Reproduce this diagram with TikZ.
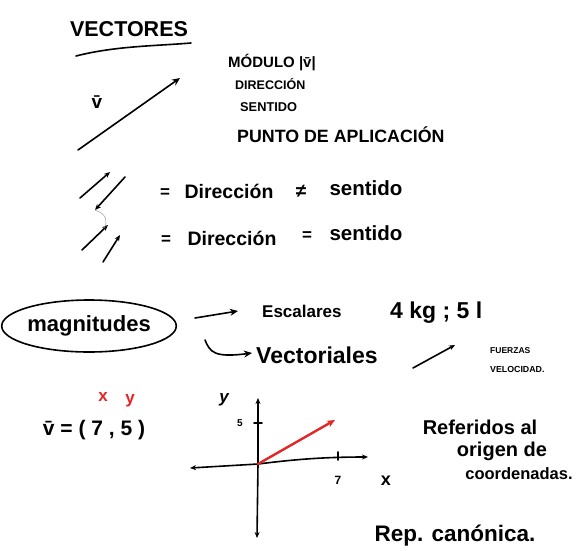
\documentclass[tikz,border=0pt]{standalone}
\usepackage{fontspec}
\setmainfont{Liberation Sans}
\usetikzlibrary{arrows.meta,shapes.geometric}
\definecolor{pred}{RGB}{228,38,38}
\definecolor{pfaint}{RGB}{170,170,170}
\begin{document}
\begin{tikzpicture}[x=1pt,y=-1pt,
  pen/.style={line width=1.6pt,line cap=round,line join=round},
  arr/.style={pen,-{Stealth[length=8pt,width=7pt]}},
  sarr/.style={pen,-{Stealth[length=6pt,width=5pt]}},
  axarr/.style={pen,{Stealth[length=6pt,width=5pt]}-{Stealth[length=6pt,width=5pt]}},
  txt/.style={inner sep=0pt},
  fs/.style={font=\bfseries\fontsize{#1}{#1}\selectfont}]
\useasboundingbox (0,0) rectangle (579,550);

% title
\node[txt,fs=21.5] (title) at (129,29) {VECTORES};
\draw[pen] (76,56) .. controls (115,46) and (155,46) .. (191,43);

% main vector
\coordinate (a0) at (78,150);
\coordinate (a1) at (180,78);
\draw[arr] (a0) -- (a1);
\node[txt,fs=19] (vlab) at (97,102) {\=v};

% properties
\node[txt,fs=15,anchor=west] (mod) at (228,63) {MÓDULO |\=v|};
\node[txt,fs=12.5,anchor=west] (dir) at (235,84) {DIRECCIÓN};
\node[txt,fs=12.8,anchor=west] (sen) at (240,107) {SENTIDO};
\node[txt,fs=17.8,anchor=west] (pun) at (237,135) {PUNTO DE APLICACIÓN};

% pairs of vectors
\coordinate (p1a) at (80,198);  \coordinate (p1b) at (110,172);
\coordinate (p2a) at (125,177); \coordinate (p2b) at (95,210);
\coordinate (p3a) at (82,250);  \coordinate (p3b) at (108,225);
\coordinate (p4a) at (103,262); \coordinate (p4b) at (120,235);
\draw[sarr] (p1a) -- (p1b);
\draw[sarr] (p2a) -- (p2b);
\draw[sarr] (p3a) -- (p3b);
\draw[sarr] (p4a) -- (p4b);
\draw[pfaint,line width=0.6pt] (p2b) .. controls (107,214) and (108,222) .. (104,228);

\node[txt,fs=17] (eq1) at (165,193) {=};
\node[txt,fs=19.5] (d1) at (229,191) {Dirección};
\node[txt,fs=19] (ne1) at (301,191) {≠};
\node[txt,fs=20.5] (s1) at (366,188) {sentido};

\node[txt,fs=17] (eq2) at (166,240) {=};
\node[txt,fs=19.5] (d2) at (232,238) {Dirección};
\node[txt,fs=17] (eq3) at (307,236) {=};
\node[txt,fs=20.5] (s2) at (366,233) {sentido};

% magnitudes
\node[draw,pen,ellipse,minimum width=164pt,minimum height=52pt,inner sep=0pt,fs=22] (mag) at (89,326) {magnitudes};
\coordinate (m0) at (195,318);
\node[txt,fs=17,anchor=west] (esc) at (262,311) {Escalares};
\node[txt,fs=23,anchor=west] (kg) at (390,313) {4 kg ; 5 l};
\draw[arr] (m0) -- ([xshift=-24pt]esc.west);
\node[txt,fs=23,anchor=west] (vec) at (256,355) {Vectoriales};
\coordinate (c0) at (205,340);
\draw[arr] (c0) .. controls (210,352) and (214,358) .. ([xshift=-4pt,yshift=2pt]vec.west);
\coordinate (s0) at (413,368);
\coordinate (s1e) at (455,345);
\draw[sarr] (s0) -- (s1e);
\node[txt,fs=8.5,anchor=west] (fue) at (490,351) {FUERZAS};
\node[txt,fs=8.8,anchor=west] (vel) at (490,369) {VELOCIDAD.};

% components
\node[txt,fs=17,text=pred] (cx) at (103,397) {x};
\node[txt,fs=17,text=pred] (cy) at (130,401) {y};
\node[txt,fs=21] (vv) at (94,430) {\=v = ( 7 , 5 )};

% axes
\coordinate (O) at (258,464);
\coordinate (xl) at (190,468);
\coordinate (xr) at (368,457);
\coordinate (yt) at (258,398);
\coordinate (yb) at (257,538);
\draw[axarr] (xl) -- (O) .. controls (290,460) and (320,457) .. (xr);
\draw[axarr] (yt) -- (O) -- (yb);
\draw[pen] (254,423) -- (262,423);
\draw[pen] (338,452) -- (338,460);
\coordinate (R) at (335,420);
\draw[pen,pred,line width=2.4pt,-{Stealth[length=8pt,width=7pt]}] (O) -- (R);
\node[txt,fs=17] (ly) at (224,400) {\itshape y};
\node[txt,fs=10] (l5) at (240,423) {5};
\node[txt,fs=12] (l7) at (338,480) {7};
\node[txt,fs=18] (lx) at (386,481) {x};

% notes
\node[txt,fs=20] (n1) at (480,427) {Referidos al};
\node[txt,fs=20] (n2) at (502,451) {origen de};
\node[txt,fs=16.5] (n3) at (519,474) {coordenadas.};
\node[txt,fs=22.5] (n4) at (455,536) {Rep. canónica.};
\end{tikzpicture}
\end{document}
